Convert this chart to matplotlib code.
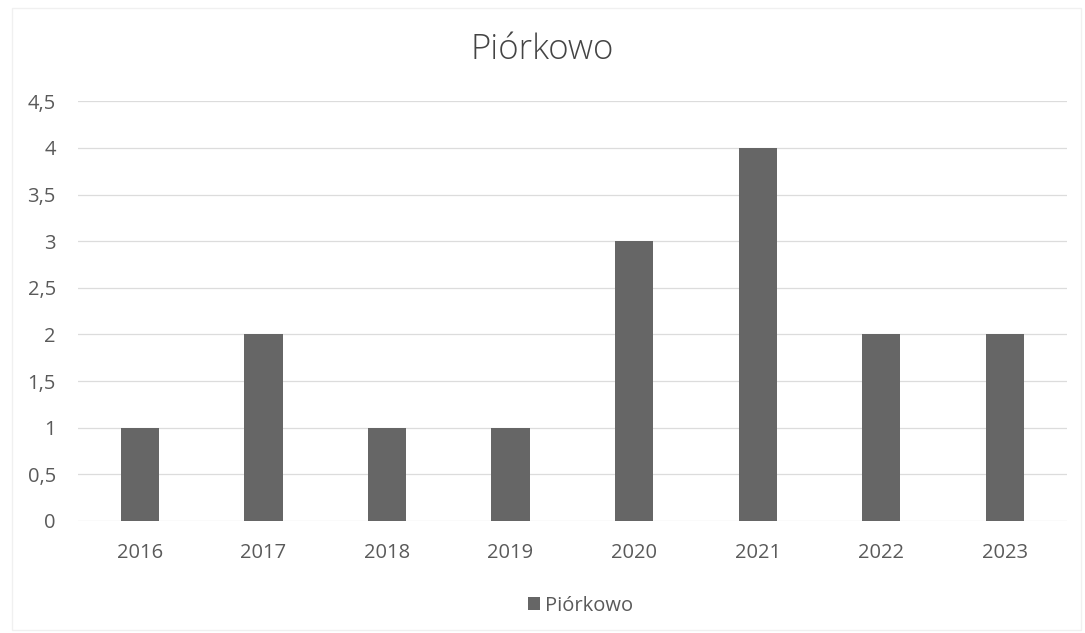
import matplotlib
matplotlib.use("Agg")
import matplotlib.pyplot as plt
from matplotlib.ticker import FuncFormatter

plt.rcParams['font.family'] = ['Open Sans', 'DejaVu Sans']

years = ['2016', '2017', '2018', '2019', '2020', '2021', '2022', '2023']
values = [1, 2, 1, 1, 3, 4, 2, 2]
series_name = 'Piórkowo'

fig = plt.figure(figsize=(10.85, 6.33), dpi=100)
ax = fig.add_axes([0.072, 0.177, 0.911, 0.663])

x = range(len(years))
ax.bar(x, values, width=0.31, color='#666666', label=series_name, zorder=3)

ax.set_xlim(-0.5, len(years) - 0.5)
ax.set_ylim(0, 4.5)
ax.set_yticks([i * 0.5 for i in range(10)])
ax.yaxis.set_major_formatter(FuncFormatter(lambda v, p: ('%g' % v).replace('.', ',')))
ax.set_xticks(list(x))
ax.set_xticklabels(years)

ax.grid(axis='y', color='#dcdcdc', linewidth=0.9, zorder=0)
for s in ax.spines.values():
    s.set_visible(False)
ax.tick_params(axis='both', length=0, labelsize=14.5, colors='#5a5a5a')
ax.tick_params(axis='x', pad=16)
ax.tick_params(axis='y', pad=16)

fig.text(0.5, 0.922, series_name, ha='center', va='center', fontsize=25,
         color='#444444', fontweight='light')

fig.legend(loc='center', bbox_to_anchor=(0.535, 0.043), frameon=False,
           fontsize=14.5, labelcolor='#5a5a5a', handlelength=0.6, handleheight=0.6,
           handletextpad=0.25)

# faint outer chart border
fig.add_artist(plt.Rectangle((0.011, 0.005), 0.985, 0.982, transform=fig.transFigure,
                             fill=False, edgecolor='#f0f0f0', linewidth=1))

fig.savefig('out.png', dpi=100, facecolor='white')
